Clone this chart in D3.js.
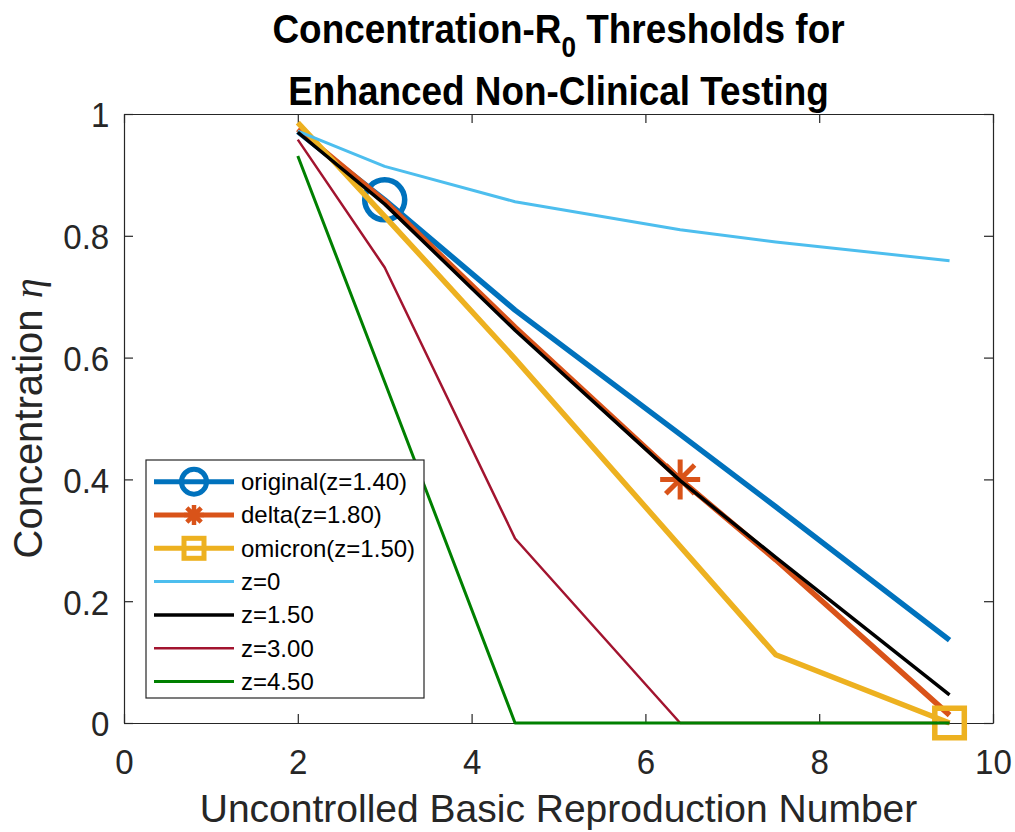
<!DOCTYPE html>
<html><head><meta charset="utf-8">
<script src="https://cdn.jsdelivr.net/npm/d3@7"></script>
<style>body{margin:0;background:#fff}</style>
</head><body>
<svg id="c" width="1015" height="832"></svg>
<script>
// ---- data ----
const R0 = [2, 3, 4.5, 6.4, 7.5, 9.5];
const etaOriginal = [0.971, 0.859, 0.678, 0.474, 0.355, 0.136];
const etaDelta    = [0.975, 0.857, 0.650, 0.400, 0.268, 0.013];
const etaOmicron  = [0.986, 0.832, 0.598, 0.290, 0.112, 0.000];
const etaZ0       = [0.972, 0.914, 0.856, 0.810, 0.790, 0.759];
const etaZ150     = [0.970, 0.852, 0.645, 0.398, 0.272, 0.046];
const etaZ300     = [0.958, 0.748, 0.303, 0.000, 0.000, 0.000];
const etaZ450     = [0.931, 0.560, 0.000, 0.000, 0.000, 0.000];
const seriesNames = ["original(z=1.40)", "delta(z=1.80)", "omicron(z=1.50)", "z=0", "z=1.50", "z=3.00", "z=4.50"];
const markerR0  = [3, 6.4, 9.5];
const markerEta = [0.859, 0.400, 0.000];
const xTicks = [0, 2, 4, 6, 8, 10];
const yTicks = [0, 0.2, 0.4, 0.6, 0.8, 1];

// ---- styles ----
const styles = [
  {c:"#0072BD", w:5.5, m:"o"},
  {c:"#D95319", w:5.5, m:"*"},
  {c:"#EDB120", w:5.5, m:"s"},
  {c:"#4DBEEE", w:3,   m:null},
  {c:"#000000", w:3.5, m:null},
  {c:"#A2142F", w:2.5, m:null},
  {c:"#008000", w:3,   m:null}
];
const allEta = [etaOriginal, etaDelta, etaOmicron, etaZ0, etaZ150, etaZ300, etaZ450];

const L = 124, R = 993, T = 114, B = 723;
const svg = d3.select("#c");
const x = d3.scaleLinear().domain([0, 10]).range([L, R]);
const y = d3.scaleLinear().domain([0, 1]).range([B, T]);
const font = "'Liberation Sans', Arial, Helvetica, sans-serif";
const axCol = "#262626";

svg.append("rect").attr("width",1015).attr("height",832).attr("fill","#fff");
svg.append("rect").attr("x",L).attr("y",T).attr("width",R-L).attr("height",B-T).attr("fill","#fff");

// axes
function styleAxis(g){
  g.selectAll("path.domain").attr("stroke", axCol).attr("stroke-width", 1.2);
  g.selectAll(".tick line").attr("stroke", axCol).attr("stroke-width", 1.2);
}
const xAx = svg.append("g").attr("transform",`translate(0,${B})`)
  .call(d3.axisBottom(x).tickValues(xTicks).tickSize(-9).tickSizeOuter(0).tickFormat(d3.format("d")));
xAx.selectAll("text").attr("y", 51).attr("dy", null).attr("x", 0)
  .attr("font-family", font).attr("font-size", 36).attr("fill", axCol)
  .attr("transform","scale(0.92,1)");
styleAxis(xAx);

const yAx = svg.append("g").attr("transform",`translate(${L},0)`)
  .call(d3.axisLeft(y).tickValues(yTicks).tickSize(-9).tickSizeOuter(0).tickFormat(d => d===0||d===1 ? d3.format("d")(d) : d3.format(".1f")(d)));
yAx.selectAll("text").attr("x", -16).attr("dy", "0.36em")
  .attr("font-family", font).attr("font-size", 36).attr("fill", axCol)
  .attr("transform","scale(0.92,1)");
styleAxis(yAx);

const xTop = svg.append("g").attr("transform",`translate(0,${T})`)
  .call(d3.axisTop(x).tickValues(xTicks).tickSize(-9).tickSizeOuter(0).tickFormat(""));
styleAxis(xTop);
const yRight = svg.append("g").attr("transform",`translate(${R},0)`)
  .call(d3.axisRight(y).tickValues(yTicks).tickSize(-9).tickSizeOuter(0).tickFormat(""));
styleAxis(yRight);

// marker drawing
function drawMarker(g, type, cx, cy, size, color, sw){
  if(type==="o"){
    g.append("circle").attr("cx",cx).attr("cy",cy).attr("r",size)
      .attr("fill","none").attr("stroke",color).attr("stroke-width",sw);
  } else if(type==="s"){
    g.append("rect").attr("x",cx-size).attr("y",cy-size).attr("width",2*size).attr("height",2*size)
      .attr("fill","none").attr("stroke",color).attr("stroke-width",sw);
  } else if(type==="*"){
    const d = size*0.72;
    const p = `M${cx-size},${cy}L${cx+size},${cy}M${cx},${cy-size}L${cx},${cy+size}`+
              `M${cx-d},${cy-d}L${cx+d},${cy+d}M${cx-d},${cy+d}L${cx+d},${cy-d}`;
    g.append("path").attr("d",p).attr("stroke",color).attr("stroke-width",sw).attr("fill","none");
  }
}

// series
const line = d3.line().x(d => x(d[0])).y(d => y(d[1]));
const plotG = svg.append("g");
allEta.forEach((eta, i) => {
  const st = styles[i];
  const pts = R0.map((r, k) => [r, eta[k]]);
  plotG.append("path").attr("d", line(pts)).attr("fill","none")
    .attr("stroke", st.c).attr("stroke-width", st.w).attr("stroke-linejoin","round");
  if(st.m){
    const sz = st.m==="o" ? 20 : (st.m==="*" ? 20 : 14.75);
    drawMarker(plotG, st.m, x(markerR0[i]), y(markerEta[i]), sz, st.c, st.m==="*"?5:5.5);
  }
});

// legend
const lg = svg.append("g");
lg.append("rect").attr("x",146).attr("y",460).attr("width",278).attr("height",238)
  .attr("fill","#fff").attr("stroke",axCol).attr("stroke-width",1.2);
seriesNames.forEach((name, i) => {
  const st = styles[i];
  const yy = 481.7 + i*33.3;
  lg.append("line").attr("x1",154).attr("x2",234).attr("y1",yy).attr("y2",yy)
    .attr("stroke",st.c).attr("stroke-width", i<3 ? 5 : st.w);
  if(st.m){
    const sz = st.m==="o" ? 12.5 : 10;
    drawMarker(lg, st.m, 194, yy, sz, st.c, st.m==="*"?4.5:5);
  }
  lg.append("text").attr("x",241).attr("y",yy).attr("dy","0.35em")
    .attr("font-family",font).attr("font-size",24).attr("fill","#000").text(name);
});

// title
const t1 = svg.append("text").attr("transform","translate(558.5,42.7) scale(0.9,1)")
  .attr("text-anchor","middle").attr("font-family",font).attr("font-weight","bold")
  .attr("font-size",41).attr("fill","#000");
t1.append("tspan").text("Concentration-R");
t1.append("tspan").attr("dy",14).attr("font-size",29).text("0");
t1.append("tspan").attr("dy",-14).text(" Thresholds for");
svg.append("text").attr("transform","translate(558.5,105) scale(0.9,1)")
  .attr("text-anchor","middle").attr("font-family",font).attr("font-weight","bold")
  .attr("font-size",41).attr("fill","#000").text("Enhanced Non-Clinical Testing");

// axis labels
svg.append("text").attr("x",(L+R)/2).attr("y",822).attr("text-anchor","middle")
  .attr("font-family",font).attr("font-size",39).attr("fill",axCol)
  .text("Uncontrolled Basic Reproduction Number");
const yl = svg.append("text").attr("transform",`translate(42,${(T+B)/2}) rotate(-90)`)
  .attr("text-anchor","middle").attr("font-family",font).attr("font-size",40).attr("fill",axCol);
yl.append("tspan").text("Concentration ");
yl.append("tspan").attr("font-family","'Liberation Serif','DejaVu Serif',serif").attr("font-style","italic").text("η");
</script>
</body></html>
